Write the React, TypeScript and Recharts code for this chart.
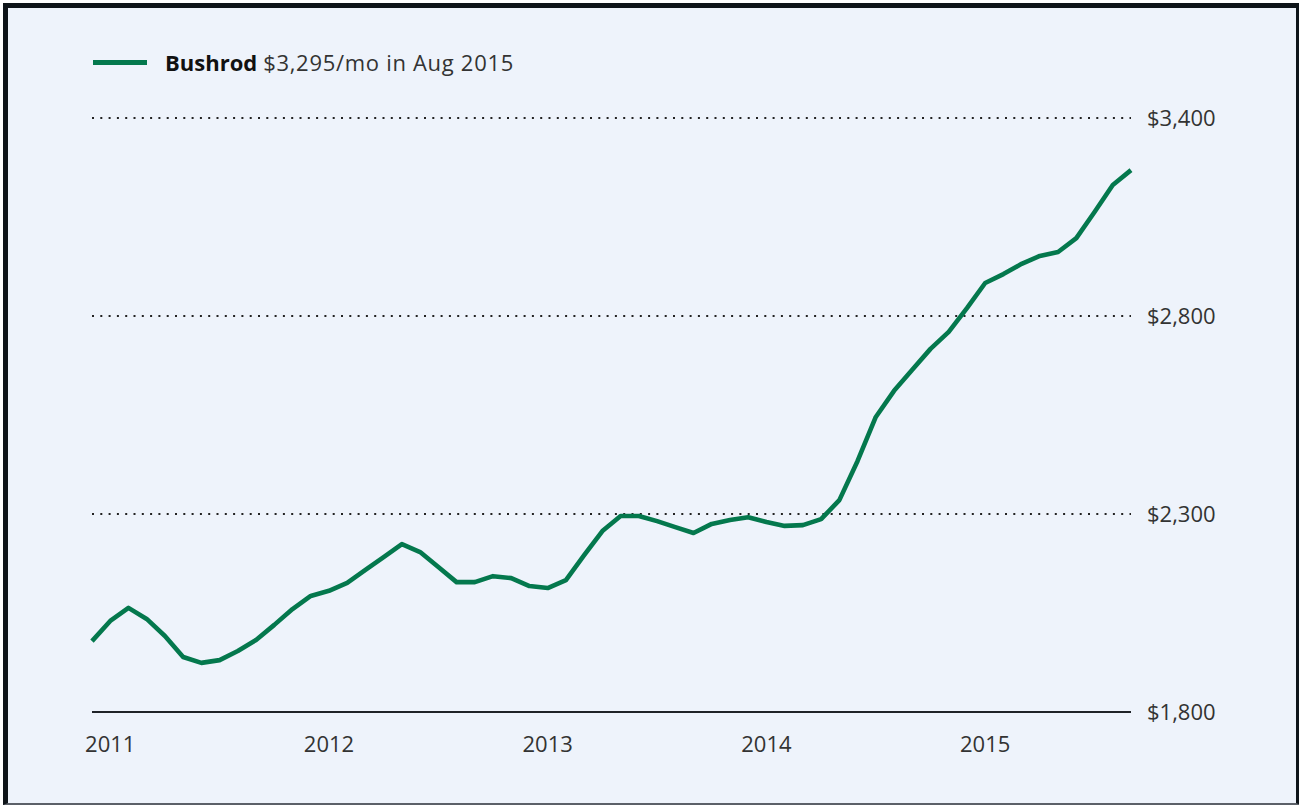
import { LineChart, Line, XAxis, YAxis, CartesianGrid } from "recharts";

// monthly rent, Dec 2010 .. Sep 2015
const startYear = 2010;
const startMonth = 12;
const rent = [
  1979, 2030, 2063, 2035, 1992, 1939, 1924, 1931, 1954, 1982, 2020, 2060,
  2093, 2106, 2126, 2159, 2191, 2224, 2204, 2166, 2128, 2128, 2143, 2138,
  2118, 2113, 2133, 2196, 2257, 2295, 2295, 2282, 2267, 2252, 2275, 2285,
  2292, 2280, 2270, 2272, 2287, 2335, 2434, 2545, 2611, 2664, 2717, 2760,
  2824, 2900, 2927, 2958, 2982, 2994, 3036, 3115, 3197, 3242,
];

const yTickValues = [1800, 2300, 2800, 3400];
const yearTicks = ["2011", "2012", "2013", "2014", "2015"];

const months = rent.map((_, i) => {
  const m = startMonth - 1 + i;
  const y = startYear + Math.floor(m / 12);
  return `${y}-${String((m % 12) + 1).padStart(2, "0")}`;
});

const data = rent.map((r, i) => ({ i, month: months[i], rent: r }));

const xTicks = yearTicks.map((y) => months.indexOf(`${y}-01`));

// the axis puts its ticks evenly apart, so values go through the tick list piecewise
const toPos = (v: number) => {
  for (let k = 0; k < yTickValues.length - 1; k++) {
    const a = yTickValues[k];
    const b = yTickValues[k + 1];
    if (v <= b || k === yTickValues.length - 2) return k + (v - a) / (b - a);
  }
  return 0;
};

const font = "'Open Sans', sans-serif";
const green = "#04784d";

export default function App() {
  return (
    <div style={{ position: "absolute", left: 0, top: 0, width: 1299, height: 806, overflow: "hidden" }}>
      <div
        style={{
          position: "absolute",
          left: 3,
          top: 3,
          width: 1298,
          height: 802,
          boxSizing: "border-box",
          background: "#eef3fb",
          border: "5px solid #0e1419",
          borderBottom: "2px solid #5b6068",
        }}
      />
      <div
        style={{
          position: "absolute",
          left: 93,
          top: 47,
          display: "flex",
          alignItems: "center",
          fontFamily: font,
          fontSize: 22,
          color: "#333",
          whiteSpace: "nowrap",
        }}
      >
        <span style={{ display: "inline-block", width: 54, height: 5, background: green, marginRight: 18 }} />
        <b style={{ color: "#111", marginRight: 6 }}>Bushrod</b>
        <span style={{ letterSpacing: 0.7 }}>$3,295/mo in Aug 2015</span>
      </div>
      <div style={{ position: "absolute", left: 0, top: 0 }}>
        <LineChart
          width={1299}
          height={806}
          data={data}
          margin={{ top: 118, right: 8, bottom: 34, left: 92 }}
        >
          <CartesianGrid
            vertical={false}
            stroke="#222"
            strokeWidth={2}
            strokeDasharray="2 6.3"
          />
          <XAxis
            dataKey="i"
            type="number"
            domain={[0, rent.length - 1]}
            ticks={xTicks}
            tickFormatter={(v: number) => months[v].slice(0, 4)}
            height={60}
            tickLine={false}
            tickSize={0}
            tickMargin={24}
            axisLine={{ stroke: "#1f2328", strokeWidth: 2 }}
            tick={{ fill: "#333", fontSize: 22, fontFamily: font }}
          />
          <YAxis
            orientation="right"
            type="number"
            domain={[0, yTickValues.length - 1]}
            ticks={yTickValues.map((_, k) => k)}
            tickFormatter={(k: number) => "$" + yTickValues[k].toLocaleString("en-US")}
            width={160}
            axisLine={false}
            tickLine={false}
            tickSize={0}
            tickMargin={16}
            tick={{ fill: "#333", fontSize: 22, fontFamily: font, textAnchor: "start" }}
          />
          <Line
            dataKey={(d: { rent: number }) => toPos(d.rent)}
            stroke={green}
            strokeWidth={4.6}
            dot={false}
            type="linear"
            strokeLinejoin="round"
            isAnimationActive={false}
          />
        </LineChart>
      </div>
    </div>
  );
}
